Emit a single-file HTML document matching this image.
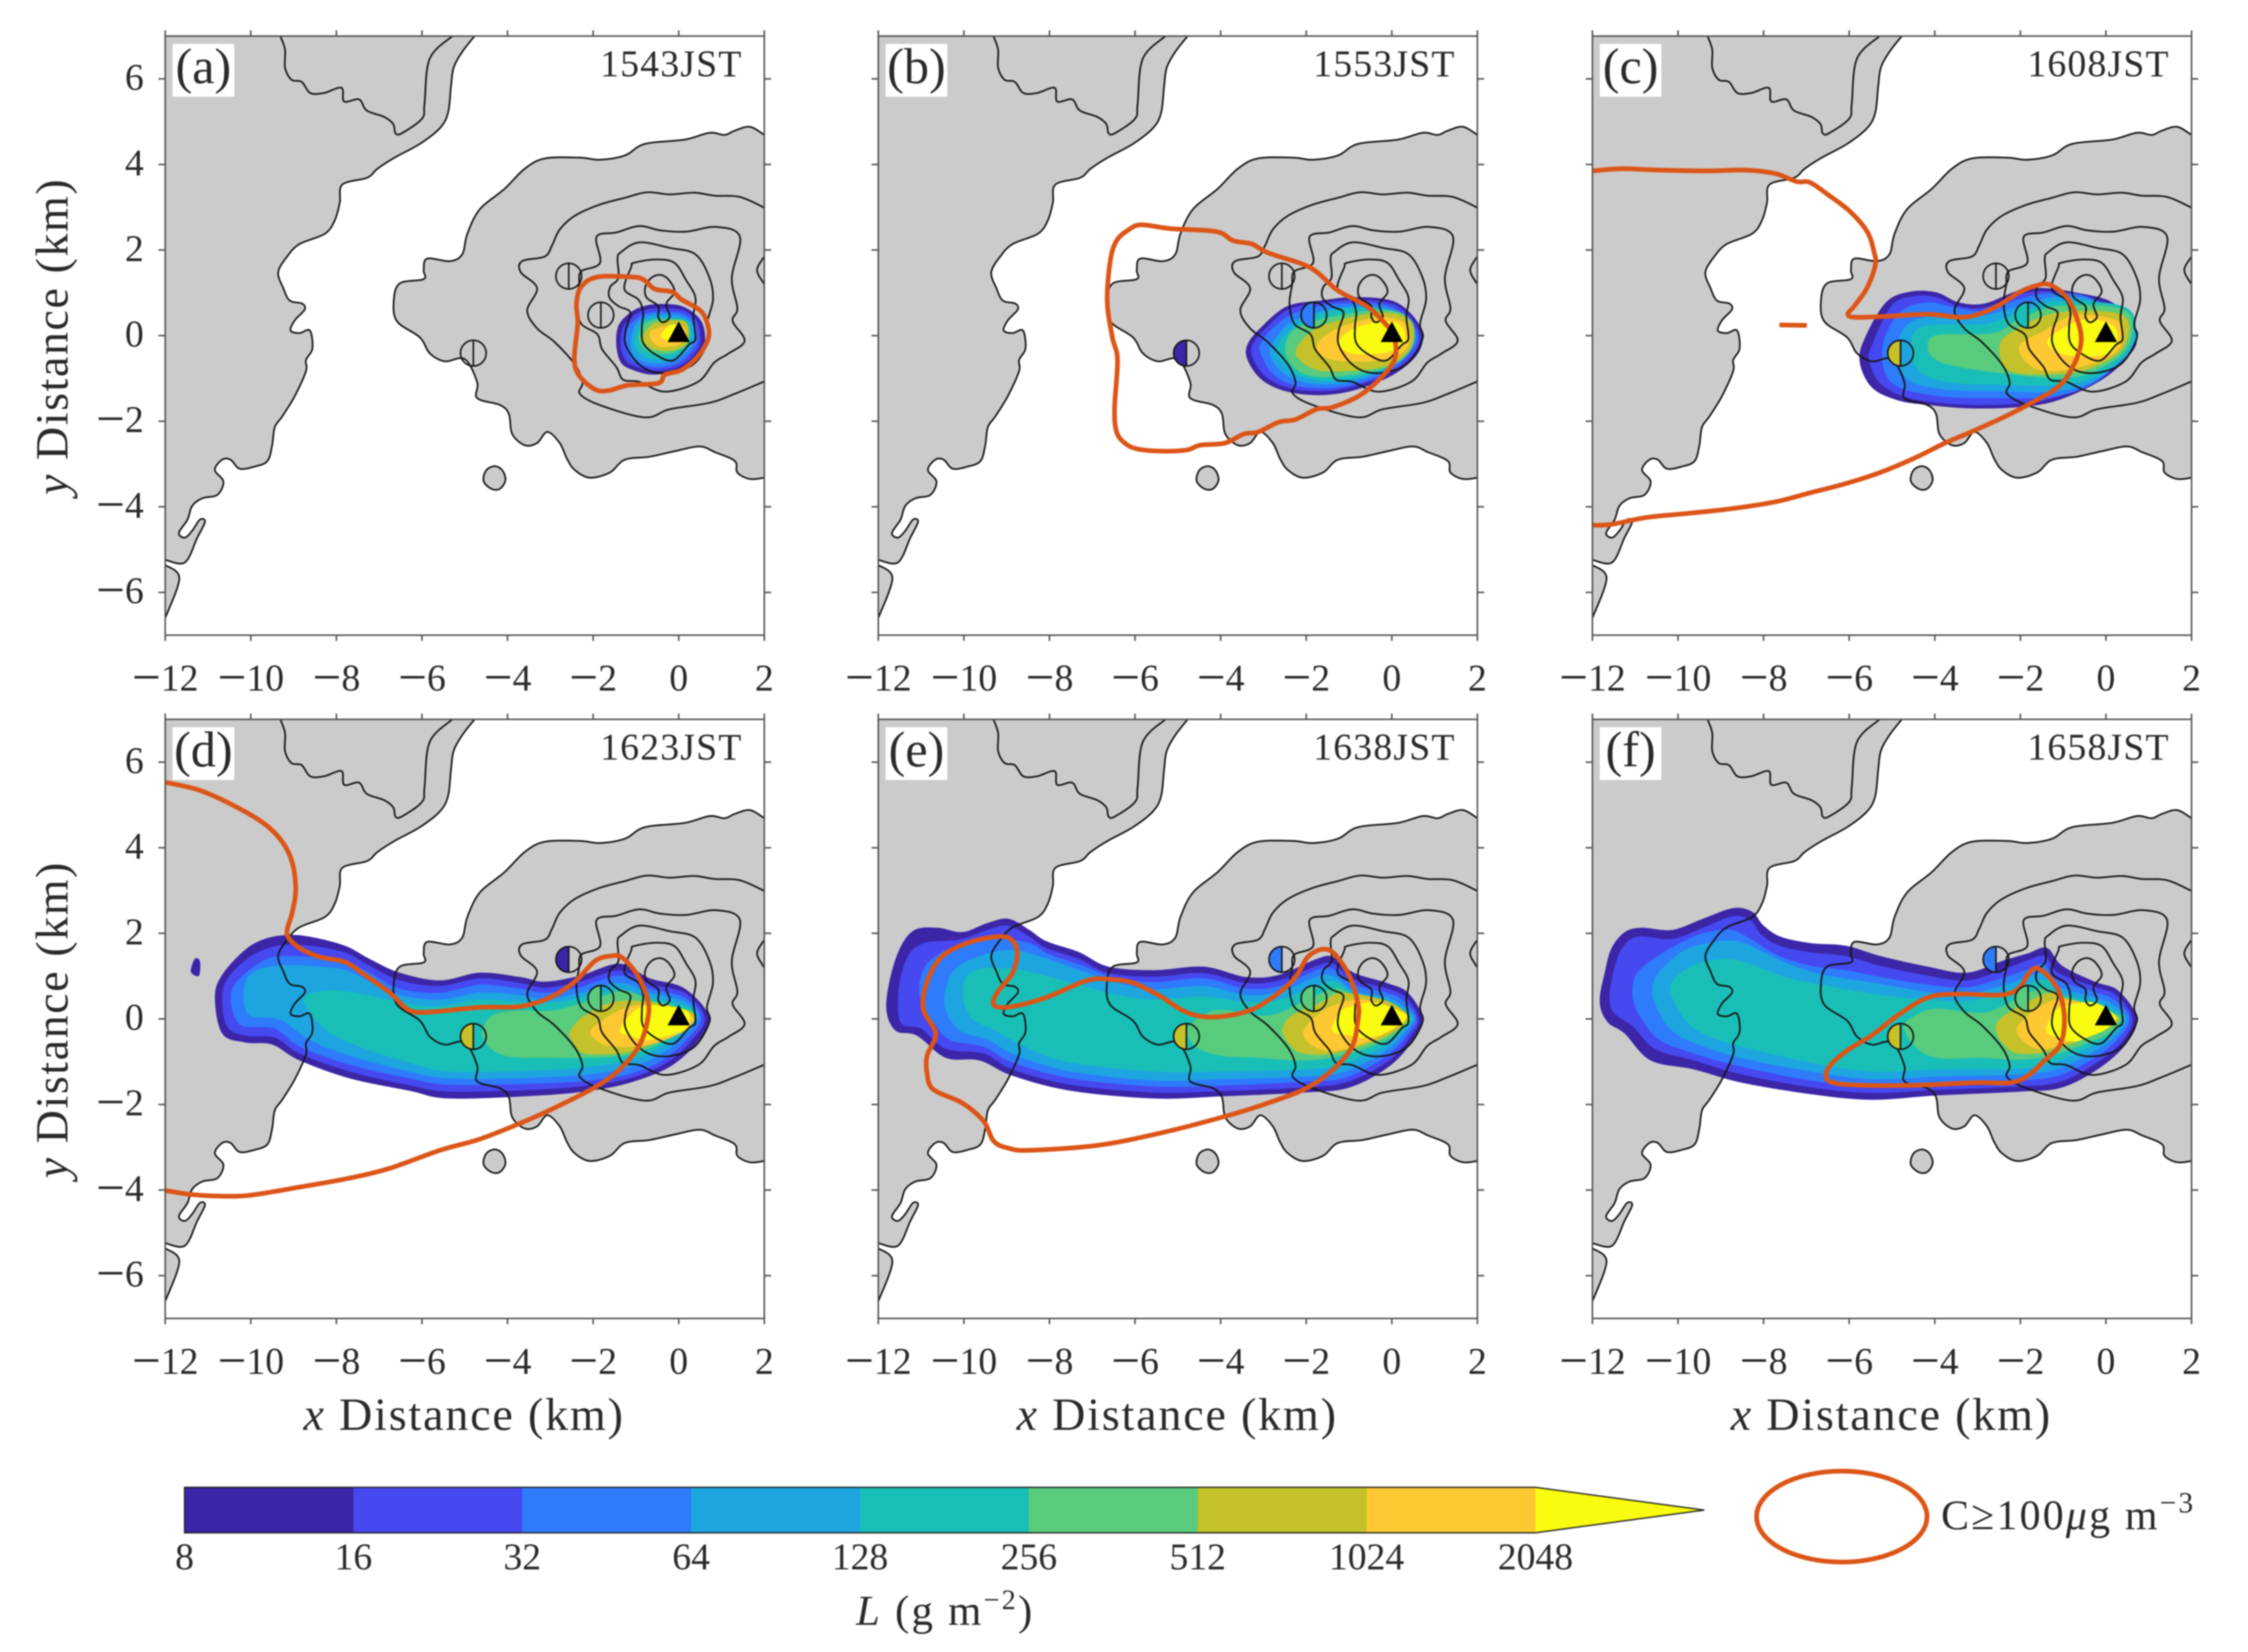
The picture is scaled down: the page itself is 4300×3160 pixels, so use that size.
<!DOCTYPE html>
<html lang="en">
<head>
<meta charset="utf-8">
<title>Plume maps</title>
<style>
html,body{margin:0;padding:0;background:#fff;}
svg{display:block;font-family:"Liberation Serif",serif;fill:#2a2a2a;filter:blur(1.2px);}
</style>
</head>
<body>
<svg id="figure" xmlns="http://www.w3.org/2000/svg" width="4300" height="3160" viewBox="0 0 4300 3160">
<rect x="0" y="0" width="4300" height="3160" fill="#ffffff"/>
<g id="panels"></g>
<g id="colorbar"></g>
<text x="1806" y="3108" text-anchor="middle" font-size="82" textLength="337" lengthAdjust="spacing"><tspan font-style="italic">L</tspan> (g m<tspan font-size="54" dy="-30">−2</tspan><tspan dy="30">)</tspan></text>
<ellipse cx="3523" cy="2901" rx="163" ry="87" fill="none" stroke="#dc5518" stroke-width="9"/>
<text x="3713" y="2925" font-size="80" textLength="482" lengthAdjust="spacing">C≥100<tspan font-style="italic">μ</tspan>g m<tspan font-size="56" dy="-32">−3</tspan></text>
</svg>
<script>
const xTicks = [-12,-10,-8,-6,-4,-2,0,2];
const yTicks = [-6,-4,-2,0,2,4,6];
const panelLetters = ['(a)','(b)','(c)','(d)','(e)','(f)'];
const panelTimes = ['1543JST','1553JST','1608JST','1623JST','1638JST','1658JST'];
const cbLevels = [8,16,32,64,128,256,512,1024,2048];
const bandColors = ['#3c25a7','#4648f0','#2e7bfb','#1da5e0','#19bfb6','#58cb7c','#c4c12a','#fdc831','#f9fb10'];
const siteX = [-4.8,-2.57,-1.82];
const siteY = [-0.41,1.39,0.48];
const siteLevels = [[-1,-1,-1],[0,-1,2],[6,-1,4],[6,0,5],[6,2,5],[6,2,5]];
const ventTriangle = [[0,0.33],[0.26,-0.15],[-0.26,-0.15]];

const mainCoast = [[-4.77,7],[-5.06,6.63],[-5.26,6.26],[-5.32,5.84],[-5.39,5.21],[-5.58,4.85],[-6.05,4.48],[-6.64,4.16],[-7.04,3.9],[-7.28,3.69],[-7.86,3.53],[-7.92,3.11],[-8.04,2.69],[-8.27,2.38],[-8.86,2.14],[-9.15,1.85],[-9.36,1.48],[-9.24,1.11],[-9.09,0.82],[-8.8,0.75],[-8.74,0.61],[-8.97,0.36],[-9.07,0.12],[-8.86,0.06],[-8.62,0.12],[-8.56,-0.3],[-8.71,-0.57],[-8.71,-0.83],[-8.97,-1.41],[-9.26,-1.88],[-9.44,-2.14],[-9.5,-2.56],[-9.61,-2.93],[-9.91,-3.06],[-10.26,-3.11],[-10.47,-2.9],[-10.67,-2.9],[-10.84,-3.14],[-10.64,-3.41],[-10.78,-3.72],[-11.13,-3.8],[-11.37,-3.98],[-11.48,-4.3],[-11.68,-4.61],[-11.54,-4.72],[-11.37,-4.56],[-11.19,-4.3],[-11.07,-4.35],[-11.25,-4.72],[-11.54,-5.3],[-12,-5.24]];
const swCoast = [[-12,-5.36],[-11.67,-5.67],[-12,-6.6]];
const volcanoCoast = [[2,4.69],[1.66,4.88],[1.31,4.79],[1.07,4.69],[0.72,4.74],[0.14,4.58],[-0.79,4.48],[-1.26,4.21],[-1.85,4.11],[-2.31,4.16],[-3.13,4.14],[-3.6,3.9],[-4.07,3.43],[-4.65,2.95],[-4.94,2.38],[-5.06,1.9],[-5.35,1.74],[-5.88,1.8],[-5.96,1.53],[-5.96,1.32],[-6.52,1.22],[-6.66,0.8],[-6.58,0.33],[-6.05,-0.04],[-5.82,-0.41],[-5.47,-0.6],[-5,-0.55],[-4.71,-1.09],[-4.71,-1.46],[-4.18,-1.62],[-3.97,-1.83],[-3.89,-2.3],[-3.6,-2.56],[-3.31,-2.51],[-3.07,-2.25],[-2.78,-2.51],[-2.61,-2.88],[-2.43,-3.14],[-2.08,-3.32],[-1.61,-3.2],[-1.26,-2.9],[-0.68,-2.83],[-0.09,-2.7],[0.49,-2.59],[0.84,-2.72],[1.31,-2.93],[1.37,-3.2],[1.66,-3.35],[2,-3.32]];
const islet = [[-4.3,-3.05],[-4.12,-3.15],[-4.05,-3.38],[-4.18,-3.58],[-4.38,-3.58],[-4.56,-3.4],[-4.5,-3.15]];
const eastEdgeContour = [[2,1.85],[1.83,1.53],[2,1.2]];
const mainlandContour = [[-9.31,7],[-9.2,6.68],[-9.2,6.26],[-9.05,5.98],[-8.81,5.93],[-8.61,5.67],[-8.29,5.67],[-7.88,5.79],[-7.82,5.47],[-7.47,5.52],[-7.29,5.26],[-6.88,5.11],[-6.67,4.94],[-6.62,4.73],[-6.47,4.73],[-6,5.07],[-5.94,5.43],[-5.82,6.47],[-5.29,7]];
const contourOuter = [[2,2.99],[1.43,3.24],[0.84,3.27],[0.37,3.34],[-0.21,3.3],[-0.74,3.35],[-1.26,3.22],[-1.85,3.06],[-2.43,2.8],[-2.78,2.48],[-2.96,2.11],[-3.13,1.85],[-3.66,1.74],[-3.69,1.48],[-3.31,1.11],[-3.54,0.59],[-3.31,0.17],[-2.9,-0.15],[-2.43,-0.67],[-2.25,-1.09],[-2.31,-1.36],[-1.85,-1.62],[-0.79,-1.91],[-0.21,-1.72],[0.72,-1.57],[1.31,-1.36],[2,-1.07]];
const contourSecond = [[-1.84,1.7],[-2.28,1.5],[-2.33,1.19],[-2.39,0.74],[-2.28,0.28],[-1.9,0.03],[-1.79,-0.32],[-1.46,-0.73],[-1.3,-1.03],[-0.92,-1.08],[-0.32,-1.31],[0.45,-1.08],[0.83,-0.63],[1.16,-0.42],[1.54,-0.12],[1.26,0.34],[1.37,0.64],[1.24,1.35],[1.43,2.31],[0.88,2.54],[0.17,2.43],[-0.43,2.46],[-0.92,2.56],[-1.46,2.41],[-1.92,2.31]];
const contourThird = [[-1.43,1.8],[-1.35,1.95],[-0.92,2.18],[-0.21,2.05],[0.39,1.9],[0.72,1.35],[0.8,0.84],[0.66,0.28],[0.72,-0.07],[0.39,-0.63],[-0.1,-0.85],[-0.59,-0.85],[-0.97,-0.63],[-1.24,-0.22],[-1.24,0.13],[-1.13,0.54],[-1.41,0.69],[-1.62,0.89],[-1.6,1.14],[-1.41,1.35]];
const contourFourth = [[-1.11,1.6],[-1.05,1.7],[-0.53,1.78],[-0.1,1.7],[0.17,1.3],[0.39,0.89],[0.34,0.44],[0.39,-0.07],[0.23,-0.22],[-0.13,-0.58],[-0.53,-0.45],[-0.83,-0.17],[-0.86,0.23],[-0.83,0.54],[-0.94,0.84],[-1.27,1.09]];
const contourFifth = [[-0.78,1.14],[-0.64,1.35],[-0.43,1.42],[-0.23,1.3],[-0.1,1.02],[-0.29,0.74],[-0.21,0.44],[-0.37,0.31],[-0.48,0.44],[-0.48,0.69],[-0.75,0.89]];

const plumeA = [
[[-0.42,0.74],[0.07,0.69],[0.45,0.44],[0.6,0.13],[0.58,-0.27],[0.28,-0.68],[-0.15,-0.85],[-0.64,-0.91],[-1.08,-0.8],[-1.35,-0.63],[-1.46,-0.22],[-1.41,0.23],[-1.13,0.54],[-0.81,0.69]],
[[-0.42,0.64],[0.07,0.6],[0.38,0.4],[0.5,0.1],[0.47,-0.26],[0.2,-0.6],[-0.15,-0.77],[-0.62,-0.82],[-1.02,-0.72],[-1.26,-0.56],[-1.36,-0.2],[-1.3,0.2],[-1.05,0.47],[-0.78,0.6]],
[[-0.42,0.56],[0.06,0.52],[0.33,0.35],[0.43,0.08],[0.4,-0.22],[0.14,-0.54],[-0.16,-0.7],[-0.6,-0.74],[-0.97,-0.65],[-1.16,-0.5],[-1.25,-0.18],[-1.2,0.17],[-0.98,0.4],[-0.75,0.52]],
[[-1.13,-0.1],[-0.98,0.3],[-0.7,0.46],[-0.42,0.5],[0,0.46],[0.3,0.3],[0.37,0.05],[0.33,-0.2],[0.08,-0.48],[-0.18,-0.62],[-0.6,-0.65],[-0.95,-0.55],[-1.08,-0.4]],
[[-1.03,-0.08],[-0.88,0.28],[-0.62,0.4],[-0.2,0.42],[0.2,0.35],[0.3,0.08],[0.26,-0.2],[0.02,-0.42],[-0.2,-0.52],[-0.6,-0.55],[-0.88,-0.42],[-1,-0.3]],
[[-0.93,-0.08],[-0.82,0.25],[-0.55,0.38],[-0.1,0.38],[0.15,0.32],[0.24,0.1],[0.2,-0.2],[-0.02,-0.35],[-0.2,-0.42],[-0.58,-0.42],[-0.8,-0.32]],
[[-0.83,0.0],[-0.59,0.28],[-0.1,0.36],[0.2,0.28],[0.2,-0.17],[-0.15,-0.35],[-0.59,-0.32],[-0.8,-0.17]],
[[-0.59,0.14],[-0.1,0.26],[0.15,0.16],[0.15,-0.12],[-0.15,-0.25],[-0.48,-0.25],[-0.68,-0.02]],
[[-0.42,0.01],[-0.23,0.23],[-0.04,0.23],[0,-0.12],[-0.26,-0.12]]
];
const plumeB = [
[[-0.89,0.9],[-0.01,0.82],[0.48,0.48],[0.72,0.01],[0.58,-0.46],[-0.01,-0.94],[-0.89,-1.28],[-1.66,-1.39],[-2.44,-1.31],[-3.03,-1.04],[-3.37,-0.57],[-3.37,-0.2],[-3.03,0.22],[-2.44,0.69],[-1.66,0.82]],
[[-0.89,0.83],[-0.05,0.76],[0.42,0.45],[0.66,0.01],[0.52,-0.42],[-0.05,-0.88],[-0.92,-1.2],[-1.66,-1.3],[-2.42,-1.22],[-2.95,-0.96],[-3.25,-0.53],[-3.25,-0.2],[-2.92,0.2],[-2.4,0.62],[-1.66,0.76]],
[[-3.07,-0.4],[-3.05,-0.15],[-2.75,0.2],[-2.3,0.52],[-1.66,0.7],[-0.89,0.76],[-0.1,0.7],[0.36,0.42],[0.6,0.01],[0.46,-0.38],[-0.08,-0.84],[-0.92,-1.15],[-1.66,-1.23],[-2.35,-1.14],[-2.8,-0.88]],
[[-2.85,-0.35],[-2.5,0.2],[-2.05,0.45],[-1.5,0.62],[-0.89,0.69],[-0.12,0.64],[0.32,0.4],[0.55,0],[0.4,-0.36],[-0.1,-0.78],[-0.95,-1.08],[-1.66,-1.14],[-2.25,-1.03],[-2.65,-0.78]],
[[-2.7,-0.3],[-2.3,0.2],[-1.85,0.43],[-1.3,0.6],[-0.3,0.64],[0.3,0.38],[0.5,-0.02],[0.36,-0.34],[-0.15,-0.76],[-1,-1.02],[-1.65,-1.05],[-2.2,-0.92],[-2.5,-0.68]],
[[-2.49,-0.25],[-2.05,0.27],[-0.3,0.6],[0.45,0.36],[0.45,-0.32],[-0.2,-0.78],[-1.57,-0.97],[-2.25,-0.78]],
[[-2.2,-0.25],[-1.66,0.22],[-0.3,0.54],[0.43,0.33],[0.43,-0.3],[-0.2,-0.73],[-1.57,-0.83],[-2.15,-0.57]],
[[-1.76,-0.25],[-1.27,0.17],[-0.3,0.43],[0.33,0.27],[0.38,-0.25],[-0.2,-0.57],[-1.37,-0.57]],
[[-1.23,-0.15],[-0.89,0.17],[-0.2,0.33],[0.23,0.22],[0.28,-0.2],[-0.2,-0.41],[-0.98,-0.41]]
];
const plumeC = [
[[-5.12,0.8],[-4.56,1.03],[-3.96,1.01],[-3.45,0.78],[-2.84,0.75],[-2.03,1.06],[-1.43,1.11],[-0.72,1.01],[0.19,0.75],[0.7,0.01],[0.55,-0.46],[-0.11,-1.04],[-1.12,-1.51],[-2.03,-1.67],[-3.15,-1.7],[-4.16,-1.62],[-4.87,-1.51],[-5.48,-1.2],[-5.76,-0.57],[-5.58,0.06]],
[[-5.48,-0.25],[-5.02,0.69],[-4.51,0.92],[-3.96,0.9],[-3.45,0.69],[-2.84,0.66],[-2.03,0.96],[-1.43,1.04],[-0.72,0.96],[0.19,0.64],[0.63,0.01],[0.5,-0.41],[-0.16,-0.99],[-1.12,-1.43],[-2.03,-1.59],[-3.15,-1.62],[-4.16,-1.54],[-4.82,-1.39],[-5.32,-1.07],[-5.53,-0.57]],
[[-5.22,-0.25],[-4.82,0.54],[-4.16,0.78],[-3.45,0.64],[-2.84,0.59],[-2.03,0.85],[-1.33,0.99],[-0.41,0.9],[0.6,0.27],[0.68,-0.15],[-0.13,-1.01],[-1.12,-1.41],[-2.44,-1.46],[-3.96,-1.41],[-5.02,-1.09]],
[[-4.87,-0.25],[-4.56,0.32],[-3.76,0.48],[-2.84,0.48],[-2.03,0.69],[-1.22,0.9],[-0.41,0.85],[0.55,0.48],[0.65,-0.25],[-0.16,-0.99],[-1.12,-1.3],[-2.44,-1.3],[-3.86,-1.25],[-4.67,-0.99]],
[[-4.56,-0.25],[-4.26,0.22],[-2.84,0.27],[-2.03,0.54],[-1.12,0.8],[0.5,0.64],[0.6,-0.25],[-0.21,-0.94],[-1.12,-1.15],[-2.44,-1.15],[-3.65,-1.09],[-4.36,-0.83]],
[[-3.96,0.01],[-2.64,0.06],[-2.03,0.38],[-1.12,0.69],[0.45,0.59],[0.52,-0.25],[-0.26,-0.83],[-1.12,-0.99],[-2.44,-0.88],[-3.45,-0.73],[-3.96,-0.57],[-4.16,-0.3]],
[[-2.49,-0.25],[-2.14,0.12],[-1.12,0.54],[0.39,0.48],[0.43,-0.25],[-0.26,-0.73],[-1.12,-0.9],[-2.24,-0.83]],
[[-2.03,-0.25],[-1.43,0.12],[-0.72,0.48],[0.29,0.33],[0.34,-0.25],[-0.21,-0.62],[-1.12,-0.83],[-1.73,-0.73]],
[[-1.38,-0.15],[-0.92,0.22],[-0.41,0.38],[0.19,0.22],[0.24,-0.25],[-0.11,-0.46],[-0.92,-0.46]]
];
const plumeD = [
[[-9.15,1.96],[-8.62,1.92],[-7.8,1.71],[-7.22,1.4],[-6.52,1.08],[-5.58,0.9],[-4.65,1.08],[-3.71,0.98],[-3.13,0.87],[-2.31,1.01],[-1.38,1.29],[-0.68,0.95],[0.14,0.71],[0.72,0.03],[0.43,-0.55],[-0.21,-1.12],[-1.14,-1.49],[-2.08,-1.68],[-3.25,-1.79],[-5.35,-1.86],[-6.29,-1.68],[-7.69,-1.39],[-8.86,-0.97],[-9.5,-0.6],[-10.14,-0.55],[-10.67,-0.34],[-10.84,0.5],[-10.67,1.03],[-10.14,1.61],[-9.67,1.87]],
[[-10.67,0.45],[-10.55,0.93],[-10.02,1.45],[-9.38,1.71],[-8.62,1.71],[-7.8,1.55],[-7.22,1.24],[-6.52,0.9],[-5.58,0.77],[-4.65,0.95],[-3.71,0.84],[-3.13,0.73],[-2.31,0.87],[-1.38,1.13],[-0.68,0.82],[0.14,0.61],[0.61,0.03],[0.31,-0.49],[-0.27,-1.02],[-1.14,-1.39],[-2.08,-1.55],[-3.25,-1.65],[-5.35,-1.7],[-6.29,-1.55],[-7.69,-1.23],[-8.86,-0.81],[-9.44,-0.44],[-10.14,-0.39],[-10.55,-0.18]],
[[-10.47,0.45],[-10.37,0.82],[-9.9,1.24],[-9.44,1.45],[-8.62,1.45],[-7.8,1.35],[-7.22,1.08],[-6.52,0.71],[-5.58,0.61],[-4.65,0.8],[-3.71,0.71],[-3.13,0.61],[-2.31,0.74],[-1.38,1.01],[-0.68,0.71],[0.14,0.5],[0.53,0.03],[0.2,-0.47],[-0.39,-0.97],[-1.14,-1.29],[-2.08,-1.44],[-3.25,-1.51],[-5.35,-1.54],[-6.29,-1.39],[-7.69,-1.07],[-8.86,-0.65],[-9.44,-0.23],[-10.14,-0.18],[-10.37,0.03]],
[[-10.17,0.56],[-10.02,1.03],[-9.44,1.24],[-8.62,1.24],[-7.8,1.14],[-7.22,0.87],[-6.52,0.56],[-5.58,0.45],[-4.65,0.61],[-3.71,0.56],[-3.13,0.45],[-2.31,0.61],[-1.38,0.84],[-0.68,0.61],[0.14,0.4],[0.46,0.03],[0.08,-0.44],[-0.5,-0.87],[-1.14,-1.13],[-2.08,-1.29],[-3.25,-1.37],[-5.35,-1.39],[-6.29,-1.23],[-7.69,-0.86],[-8.62,-0.49],[-9.32,-0.02],[-10.02,0.08]],
[[-8.77,0.45],[-8.27,0.66],[-7.57,0.61],[-6.64,0.42],[-5.71,0.29],[-4.65,0.45],[-3.71,0.4],[-2.78,0.4],[-1.85,0.61],[-1.38,0.71],[-0.68,0.5],[0.2,0.29],[0.4,0.03],[0,-0.39],[-0.62,-0.76],[-1.14,-0.97],[-2.08,-1.12],[-3.25,-1.2],[-5.35,-1.23],[-6.29,-1.02],[-7.46,-0.65],[-8.27,-0.23]],
[[-4.59,-0.28],[-4.36,0.08],[-3.83,0.19],[-3.01,0.19],[-2.55,0.29],[-1.85,0.5],[-1.26,0.66],[-0.62,0.42],[0.26,0.19],[0.35,-0.02],[-0.09,-0.39],[-0.74,-0.7],[-1.26,-0.86],[-2.08,-0.91],[-3.01,-0.91],[-3.97,-0.88],[-4.44,-0.65]],
[[-2.55,-0.32],[-2.2,0.08],[-1.5,0.4],[-0.56,0.38],[0.32,0.14],[0.26,-0.18],[-0.21,-0.44],[-0.85,-0.67],[-1.38,-0.81],[-2.2,-0.81],[-2.43,-0.6]],
[[-2.06,-0.28],[-1.61,0.08],[-1.14,0.29],[-0.56,0.32],[0.29,0.08],[0.2,-0.23],[-0.33,-0.49],[-0.91,-0.63],[-1.5,-0.65],[-1.85,-0.55]],
[[-1.38,-0.28],[-1.09,0.14],[-0.68,0.32],[0.14,0.21],[0.26,-0.04],[0.08,-0.28],[-0.44,-0.44],[-0.79,-0.49],[-1.14,-0.39]]
];
const plumeDPatch = [[-11.31,1.4],[-11.4,1.1],[-11.21,1.01],[-11.19,1.35]];
const plumeE = [
[[-8.96,2.34],[-8.47,2.08],[-8.08,1.82],[-7.31,1.56],[-6.62,1.22],[-5.55,1.14],[-4.39,1.22],[-3.41,0.98],[-2.64,1.03],[-1.76,1.4],[-1.37,1.45],[-0.89,1.08],[-0.11,0.84],[0.38,0.61],[0.72,0.03],[0.57,-0.39],[-0.01,-1.07],[-0.98,-1.6],[-2.05,-1.72],[-4,-1.81],[-5.55,-1.86],[-7.5,-1.68],[-8.86,-1.33],[-9.64,-0.97],[-10.42,-0.91],[-11.1,-0.39],[-11.59,-0.28],[-11.81,0.19],[-11.73,0.92],[-11.49,1.66],[-11.15,2.08],[-10.61,2.13],[-10.03,2.03],[-9.45,2.24]],
[[-8.96,2.18],[-8.47,1.92],[-8.08,1.66],[-7.31,1.4],[-6.62,1.07],[-5.55,0.99],[-4.39,1.07],[-3.41,0.84],[-2.64,0.9],[-1.76,1.24],[-1.37,1.29],[-0.89,0.92],[-0.11,0.71],[0.33,0.5],[0.62,0.03],[0.48,-0.34],[-0.06,-0.97],[-1.03,-1.47],[-2.05,-1.6],[-4,-1.69],[-5.55,-1.72],[-7.5,-1.54],[-8.86,-1.18],[-9.54,-0.81],[-10.42,-0.7],[-11,-0.23],[-11.44,-0.13],[-11.54,0.29],[-11.49,0.92],[-11.29,1.5],[-10.95,1.77],[-10.51,1.82],[-10.03,1.87],[-9.45,2.08]],
[[-9.15,1.87],[-8.47,1.77],[-7.98,1.5],[-7.21,1.24],[-6.53,0.98],[-5.55,0.86],[-4.39,0.95],[-3.41,0.71],[-2.64,0.77],[-1.76,1.14],[-1.37,1.17],[-0.89,0.8],[-0.11,0.61],[0.28,0.42],[0.57,0.03],[0.4,-0.32],[-0.11,-0.86],[-1.07,-1.37],[-2.05,-1.47],[-4,-1.56],[-5.55,-1.58],[-7.5,-1.39],[-8.86,-1.02],[-9.54,-0.65],[-10.33,-0.49],[-10.72,-0.07],[-10.95,0.29],[-11.05,0.71],[-10.9,1.24],[-10.42,1.61],[-9.74,1.82]],
[[-10.42,0.71],[-10.18,1.19],[-9.54,1.5],[-8.86,1.61],[-8.18,1.45],[-7.6,1.24],[-6.97,1.03],[-6.33,0.82],[-5.55,0.69],[-4.39,0.77],[-3.41,0.56],[-2.64,0.63],[-1.76,0.98],[-1.37,1.01],[-0.89,0.66],[-0.11,0.5],[0.23,0.32],[0.52,0.03],[0.33,-0.28],[-0.16,-0.76],[-1.13,-1.24],[-2.05,-1.35],[-4,-1.41],[-5.55,-1.44],[-7.5,-1.23],[-8.76,-0.86],[-9.45,-0.49],[-10.09,-0.28],[-10.42,0.19]],
[[-10.03,0.61],[-9.9,1.03],[-9.45,1.19],[-8.67,1.14],[-7.98,0.98],[-7.21,0.77],[-6.43,0.56],[-5.55,0.45],[-4.39,0.52],[-3.41,0.4],[-2.64,0.45],[-1.76,0.77],[-1.32,0.87],[-0.84,0.56],[-0.11,0.38],[0.18,0.24],[0.48,0.03],[0.28,-0.26],[-0.2,-0.65],[-1.18,-1.07],[-2.05,-1.18],[-4,-1.23],[-5.55,-1.23],[-7.5,-1.02],[-8.47,-0.7],[-9.25,-0.28],[-9.83,0.03]],
[[-4.78,-0.23],[-4.3,0.14],[-3.9,0.21],[-3.12,0.08],[-2.64,0.14],[-1.86,0.5],[-1.27,0.71],[-0.74,0.45],[-0.11,0.29],[0.14,0.19],[0.43,0.01],[0.23,-0.23],[-0.25,-0.55],[-1.18,-0.86],[-2.05,-0.97],[-3.12,-0.91],[-4,-0.86],[-4.58,-0.65]],
[[-2.56,-0.28],[-2.34,0.08],[-1.66,0.38],[-1.18,0.61],[-0.2,0.45],[0.28,0.19],[0.38,0],[0.18,-0.21],[-0.3,-0.49],[-1.37,-0.81],[-2.05,-0.81],[-2.34,-0.65]],
[[-2.07,-0.32],[-1.76,0.08],[-1.27,0.35],[-0.59,0.45],[0.28,0.14],[0.33,-0.02],[0.09,-0.21],[-0.4,-0.46],[-1.27,-0.74],[-1.81,-0.65]],
[[-1.39,-0.28],[-1.23,0.14],[-0.98,0.29],[-0.4,0.38],[0.28,0.14],[0.3,-0.04],[0.09,-0.18],[-0.3,-0.39],[-0.69,-0.44],[-0.98,-0.39]]
];
const plumeF = [
[[-8.71,2.59],[-8.26,2.5],[-8.01,2.19],[-7.6,1.92],[-6.89,1.77],[-6.08,1.71],[-5.27,1.47],[-4.16,1.22],[-3.25,1.08],[-2.44,1.35],[-1.83,1.53],[-1.38,1.66],[-1.02,1.24],[-0.26,0.87],[0.29,0.66],[0.72,0.03],[0.5,-0.55],[-0.11,-1.12],[-1.02,-1.6],[-2.03,-1.7],[-3.96,-1.79],[-5.48,-1.89],[-6.89,-1.76],[-8.51,-1.49],[-9.63,-1.18],[-10.64,-0.97],[-11.25,-0.34],[-11.65,-0.07],[-11.83,0.4],[-11.7,1.14],[-11.55,1.66],[-11.24,2.03],[-10.84,2.13],[-10.13,2.08],[-9.42,2.34]],
[[-8.71,2.4],[-8.31,2.3],[-8.06,1.98],[-7.65,1.72],[-6.94,1.56],[-6.08,1.47],[-5.27,1.24],[-4.16,1.01],[-3.25,0.9],[-2.44,1.14],[-1.83,1.37],[-1.42,1.47],[-1.12,1.08],[-0.26,0.75],[0.24,0.56],[0.62,0.03],[0.4,-0.5],[-0.19,-1.01],[-1.07,-1.47],[-2.03,-1.58],[-3.96,-1.66],[-5.48,-1.73],[-6.89,-1.6],[-8.51,-1.3],[-9.63,-0.97],[-10.54,-0.7],[-11.05,-0.18],[-11.5,0.14],[-11.6,0.5],[-11.5,1.14],[-11.3,1.66],[-10.95,1.92],[-10.13,1.87],[-9.42,2.13]],
[[-11.05,0.82],[-10.9,1.14],[-10.33,1.56],[-9.49,1.98],[-8.77,2.08],[-8.31,1.87],[-7.7,1.5],[-6.89,1.24],[-6.08,1.14],[-5.27,0.98],[-4.16,0.8],[-3.25,0.74],[-2.44,0.95],[-1.83,1.16],[-1.43,1.29],[-1.17,0.92],[-0.26,0.63],[0.19,0.45],[0.55,0.03],[0.31,-0.44],[-0.26,-0.91],[-1.12,-1.33],[-2.03,-1.44],[-3.96,-1.52],[-5.48,-1.58],[-6.89,-1.44],[-8.51,-1.12],[-9.63,-0.81],[-10.44,-0.49],[-10.84,-0.02],[-11.04,0.4]],
[[-10.6,0.61],[-10.49,1.03],[-9.93,1.56],[-9.32,1.77],[-8.61,1.82],[-8,1.56],[-7.3,1.24],[-6.49,1.01],[-5.27,0.82],[-4.16,0.63],[-3.25,0.59],[-2.44,0.77],[-1.83,0.98],[-1.43,1.08],[-1.17,0.77],[-0.26,0.5],[0.14,0.35],[0.48,0.03],[0.24,-0.39],[-0.36,-0.81],[-1.17,-1.18],[-2.03,-1.3],[-3.96,-1.35],[-5.48,-1.41],[-6.89,-1.23],[-8.51,-0.92],[-9.53,-0.6],[-10.14,-0.28],[-10.44,0.14]],
[[-10.17,0.61],[-10.04,0.98],[-9.53,1.29],[-8.82,1.4],[-8.21,1.24],[-7.5,0.98],[-6.49,0.77],[-5.27,0.56],[-4.16,0.45],[-3.25,0.42],[-2.44,0.61],[-1.83,0.82],[-1.37,0.92],[-1.12,0.61],[-0.26,0.4],[0.09,0.24],[0.42,0.03],[0.14,-0.36],[-0.47,-0.7],[-1.23,-1.02],[-2.03,-1.16],[-3.96,-1.18],[-5.48,-1.23],[-6.89,-1.02],[-8.3,-0.7],[-9.32,-0.39],[-9.83,-0.02]],
[[-4.72,-0.18],[-4.46,0.08],[-3.96,0.24],[-2.95,0.14],[-2.44,0.29],[-1.83,0.61],[-1.43,0.71],[-1.07,0.56],[-0.26,0.32],[0.04,0.19],[0.36,0.01],[0.09,-0.32],[-0.52,-0.6],[-1.28,-0.86],[-2.03,-0.95],[-2.95,-0.91],[-3.96,-0.91],[-4.46,-0.65]],
[[-2.57,-0.28],[-2.44,0.03],[-1.83,0.4],[-1.33,0.61],[-1.02,0.5],[-0.26,0.29],[0.29,0.03],[0.04,-0.23],[-0.57,-0.49],[-1.33,-0.76],[-2.03,-0.81],[-2.34,-0.65]],
[[-2.09,-0.26],[-1.83,0.08],[-1.33,0.4],[-0.97,0.45],[-0.26,0.29],[0.24,0.01],[-0.01,-0.21],[-0.62,-0.44],[-1.38,-0.7],[-1.83,-0.6]],
[[-1.4,-0.28],[-1.22,0.14],[-0.92,0.32],[-0.26,0.38],[0.21,0.08],[0.19,-0.07],[-0.06,-0.28],[-0.41,-0.42],[-0.72,-0.53],[-1.12,-0.44]]
];

const cloudA = [[-2.28,1.14],[-1.9,1.37],[-1.08,1.37],[-0.81,1.3],[-0.56,1.09],[-0.15,1.02],[0.07,0.84],[0.5,0.59],[0.67,0.28],[0.69,-0.07],[0.45,-0.48],[0.07,-0.8],[-0.32,-0.91],[-0.48,-1.11],[-1.19,-1.16],[-1.62,-1.28],[-1.95,-1.26],[-2.33,-0.93],[-2.44,-0.53],[-2.36,0.28],[-2.39,0.74]];
const cloudB = [[-6.14,2.48],[-5.85,2.59],[-5.17,2.5],[-4.1,2.43],[-3.71,2.22],[-3.27,2.14],[-2.88,1.93],[-1.91,1.59],[-1.27,1.06],[-0.59,0.69],[-0.2,0.33],[0.04,0.01],[0.09,-0.46],[-0.11,-0.83],[-0.69,-1.36],[-1.37,-1.67],[-1.76,-1.72],[-2.25,-1.96],[-2.64,-2.02],[-3.12,-2.25],[-3.46,-2.3],[-3.9,-2.51],[-4.48,-2.56],[-4.78,-2.67],[-5.36,-2.7],[-5.94,-2.65],[-6.24,-2.51],[-6.43,-2.25],[-6.48,-1.72],[-6.41,-0.57],[-6.53,-0.04],[-6.65,0.8],[-6.58,1.74],[-6.43,2.22]];
const cloudC = [[-12,3.85],[-11.3,3.9],[-10.49,3.87],[-9.27,3.85],[-8.45,3.87],[-7.74,3.79],[-7.23,3.6],[-6.92,3.58],[-6.49,3.29],[-5.98,2.9],[-5.58,2.43],[-5.42,1.96],[-5.39,1.65],[-5.58,1.12],[-5.88,0.69],[-6.03,0.51],[-5.88,0.43],[-5.17,0.45],[-4.16,0.5],[-3.45,0.43],[-3.04,0.48],[-2.54,0.69],[-2.03,1.01],[-1.62,1.17],[-1.32,1.19],[-0.92,0.9],[-0.67,0.38],[-0.58,-0.15],[-0.77,-0.72],[-1.12,-1.2],[-1.83,-1.62],[-2.44,-1.93],[-3.15,-2.25],[-3.76,-2.51],[-4.47,-2.86],[-5.28,-3.2],[-6.09,-3.46],[-6.9,-3.67],[-7.71,-3.88],[-8.72,-4.04],[-9.73,-4.15],[-10.74,-4.25],[-11.55,-4.41],[-12,-4.43]];
const cloudCDash = [[-7.63,0.25],[-6.99,0.24]];
const cloudD = [[-12,5.53],[-11.19,5.34],[-10.37,4.97],[-9.67,4.55],[-9.26,4.13],[-9.03,3.65],[-8.95,3.02],[-9.03,2.49],[-9.15,1.98],[-8.86,1.66],[-8.39,1.45],[-7.8,1.33],[-7.34,1.03],[-6.75,0.61],[-6.31,0.21],[-5.82,0.16],[-4.65,0.27],[-3.71,0.29],[-3.01,0.5],[-2.43,0.87],[-1.96,1.35],[-1.59,1.47],[-1.32,1.43],[-0.97,1.03],[-0.74,0.5],[-0.71,0.08],[-0.91,-0.6],[-1.38,-1.18],[-1.96,-1.6],[-3.01,-2.13],[-3.71,-2.44],[-4.65,-2.81],[-5.58,-3.07],[-6.75,-3.49],[-7.69,-3.72],[-8.86,-3.93],[-10.02,-4.12],[-10.72,-4.14],[-11.42,-4.1],[-12,-4.01]];
const cloudE = [[-9.25,1.92],[-8.91,1.87],[-8.75,1.56],[-8.86,1.08],[-9.15,0.71],[-9.3,0.45],[-9.25,0.29],[-8.86,0.29],[-8.08,0.5],[-7.11,0.9],[-6.53,0.92],[-6.04,0.84],[-5.46,0.56],[-4.87,0.19],[-4.39,0.05],[-3.8,0.08],[-3.22,0.24],[-2.64,0.61],[-2.25,0.98],[-1.96,1.45],[-1.61,1.63],[-1.32,1.5],[-0.98,0.98],[-0.79,0.35],[-0.79,-0.02],[-0.93,-0.65],[-1.37,-1.18],[-1.96,-1.6],[-2.73,-1.91],[-3.9,-2.28],[-5.55,-2.7],[-6.92,-2.96],[-8.47,-3.07],[-8.96,-3.02],[-9.3,-2.86],[-9.54,-2.39],[-10.03,-1.97],[-10.71,-1.65],[-10.86,-1.28],[-10.86,-0.86],[-10.66,-0.34],[-10.95,0.24],[-10.86,0.87],[-10.52,1.45],[-9.93,1.77]];
const cloudF = [[-1.63,1.19],[-1.33,0.98],[-1.07,0.56],[-0.97,-0.02],[-1.07,-0.6],[-1.43,-0.97],[-1.83,-1.33],[-2.24,-1.49],[-3.05,-1.49],[-4.46,-1.55],[-5.68,-1.55],[-6.44,-1.47],[-6.51,-1.18],[-6.08,-0.76],[-5.48,-0.39],[-4.87,0.08],[-4.16,0.5],[-3.45,0.58],[-2.44,0.56],[-2.03,0.72],[-1.83,1.03]];

const plumes = [plumeA,plumeB,plumeC,plumeD,plumeE,plumeF];
const clouds = [cloudA,cloudB,cloudC,cloudD,cloudE,cloudF];
const cloudClosed = [true,true,false,false,true,true];
const panelLeft = [316,1680,3046,316,1680,3046];
const panelTop = [69,69,69,1376,1376,1376];

const NS = 'http://www.w3.org/2000/svg';
const PW = 1146, PH = 1146;
const KM = PW / 14;

function make(parent, tag, attrs) {
  const e = document.createElementNS(NS, tag);
  for (const k in attrs) e.setAttribute(k, attrs[k]);
  parent.appendChild(e);
  return e;
}
function smooth(pts, sx, sy, closed) {
  const n = pts.length;
  const P = i => closed ? pts[(i + n) % n] : pts[Math.max(0, Math.min(n - 1, i))];
  let d = 'M' + sx(pts[0][0]).toFixed(1) + ' ' + sy(pts[0][1]).toFixed(1);
  const last = closed ? n : n - 1;
  for (let i = 0; i < last; i++) {
    const p0 = P(i - 1), p1 = P(i), p2 = P(i + 1), p3 = P(i + 2);
    const c1x = sx(p1[0]) + (sx(p2[0]) - sx(p0[0])) / 6;
    const c1y = sy(p1[1]) + (sy(p2[1]) - sy(p0[1])) / 6;
    const c2x = sx(p2[0]) - (sx(p3[0]) - sx(p1[0])) / 6;
    const c2y = sy(p2[1]) - (sy(p3[1]) - sy(p1[1])) / 6;
    d += 'C' + c1x.toFixed(1) + ' ' + c1y.toFixed(1) + ' ' + c2x.toFixed(1) + ' ' + c2y.toFixed(1) + ' ' + sx(p2[0]).toFixed(1) + ' ' + sy(p2[1]).toFixed(1);
  }
  return d + (closed ? 'Z' : '');
}
// Wide minus like the reference's math font: a larger glyph, shifted down to stay centred.
function fillNumber(textEl, v) {
  if (v < 0) {
    const m = make(textEl, 'tspan', {'font-size': 98, dy: 7});
    m.textContent = '\u2212';
    const d = make(textEl, 'tspan', {dy: -7});
    d.textContent = String(Math.abs(v));
  } else {
    textEl.textContent = String(v);
  }
}

const root = document.getElementById('panels');
const defs = make(root, 'defs', {});

panelLetters.forEach((letter, p) => {
  const left = panelLeft[p], top = panelTop[p];
  const sx = x => left + (x + 12) * KM;
  const sy = y => top + (7 - y) * KM;
  const g = make(root, 'g', {});
  
  

  const clip = make(defs, 'clipPath', {id: 'clip' + p});
  make(clip, 'rect', {x: left, y: top, width: PW, height: PH});
  const map = make(g, 'g', {'clip-path': 'url(#clip' + p + ')'});
  
  

  // land fill
  const landMain = make(map, 'path', {d: smooth(mainCoast, sx, sy, false) + 'L' + sx(-12) + ' ' + sy(7) + 'Z', fill: '#cbcbcb'});
  
  
  const landSw = make(map, 'path', {d: smooth(swCoast, sx, sy, false) + 'Z', fill: '#cbcbcb'});
  
  
  const landVolcano = make(map, 'path', {d: smooth(volcanoCoast, sx, sy, false) + 'Z', fill: '#cbcbcb'});
  
  
  const landIslet = make(map, 'path', {d: smooth(islet, sx, sy, true), fill: '#cbcbcb'});
  
  

  // plume bands
  plumes[p].forEach((band, i) => {
    const b = make(map, 'path', {d: smooth(band, sx, sy, true), fill: bandColors[i]});
    
    
  });
  if (p === 3) {
    const patch = make(map, 'path', {d: smooth(plumeDPatch, sx, sy, true), fill: bandColors[0]});
    
    
  }

  // black outlines
  const lines = [[mainCoast,false],[swCoast,false],[volcanoCoast,false],[islet,true],[eastEdgeContour,false],[mainlandContour,false],[contourOuter,false],[contourSecond,true],[contourThird,true],[contourFourth,true],[contourFifth,true]];
  lines.forEach((ln, i) => {
    const l = make(map, 'path', {d: smooth(ln[0], sx, sy, ln[1]), fill: 'none', stroke: '#151515', 'stroke-width': 3.2});
    
    
  });

  // red contour
  const cloud = make(map, 'path', {d: smooth(clouds[p], sx, sy, cloudClosed[p]), fill: 'none', stroke: '#dc5518', 'stroke-width': 9, 'stroke-linejoin': 'round'});
  
  
  if (p === 2) {
    const dash = make(map, 'path', {d: smooth(cloudCDash, sx, sy, false), fill: 'none', stroke: '#dc5518', 'stroke-width': 9});
    
    
  }

  // observation sites
  siteX.forEach((sv, i) => {
    const cx = sx(sv), cy = sy(siteY[i]), r = 24.5;
    const lvl = siteLevels[p][i];
    if (lvl >= 0) {
      const half = make(map, 'path', {d: 'M' + cx + ' ' + (cy - r) + 'A' + r + ' ' + r + ' 0 0 0 ' + cx + ' ' + (cy + r) + 'Z', fill: bandColors[lvl]});
      
      
    }
    const ring = make(map, 'circle', {cx: cx, cy: cy, r: r, fill: 'none', stroke: '#151515', 'stroke-width': 3});
    
    
    const bar = make(map, 'line', {x1: cx, x2: cx, y1: cy - r, y2: cy + r, stroke: '#151515', 'stroke-width': 3});
    
    
  });

  // vent
  const vent = make(map, 'polygon', {points: ventTriangle.map(t => sx(t[0]) + ',' + sy(t[1])).join(' '), fill: '#000'});
  
  

  // frame
  const frame = make(g, 'rect', {x: left, y: top, width: PW, height: PH, fill: 'none', stroke: '#555', 'stroke-width': 3});
  
  

  // x ticks
  xTicks.forEach(v => {
    const x = sx(v);
    const t = make(g, 'path', {d: 'M' + x + ' ' + top + 'v-11M' + x + ' ' + (top + PH) + 'v11', stroke: '#555', 'stroke-width': 3, fill: 'none'});
    
    
    const lab = make(g, 'text', {x: x, y: top + PH + 106, 'text-anchor': 'middle', 'font-size': 72});
    fillNumber(lab, v);
    
    
  });
  // y ticks
  yTicks.forEach(v => {
    const y = sy(v);
    const t = make(g, 'path', {d: 'M' + left + ' ' + y + 'h-13M' + (left + PW) + ' ' + y + 'h13', stroke: '#555', 'stroke-width': 3, fill: 'none'});
    
    
    if (p % 3 === 0) {
      const lab = make(g, 'text', {x: left - 41, y: y + 21, 'text-anchor': 'end', 'font-size': 72});
      fillNumber(lab, v);
      
      
    }
  });

  // panel letter box
  const box = make(g, 'rect', {x: left + 14, y: top + 15, width: 118, height: 101, fill: '#fff'});
  
  
  const letterText = make(g, 'text', {x: left + 73, y: top + 90, 'text-anchor': 'middle', 'font-size': 96});
  letterText.textContent = letter;
  
  
  const timeText = make(g, 'text', {x: left + 832, y: top + 77, 'font-size': 72, textLength: 270, lengthAdjust: 'spacing'});
  timeText.textContent = panelTimes[p];
  
  

  // axis titles: x title on the bottom row only, y title on the left column only
  if (p >= 3) {
    const xTitle = make(g, 'text', {x: left + PW / 2 - 3, y: top + PH + 213, 'text-anchor': 'middle', 'font-size': 88, textLength: 611, lengthAdjust: 'spacing'});
    const xi = make(xTitle, 'tspan', {'font-style': 'italic'});
    xi.textContent = 'x';
    xTitle.appendChild(document.createTextNode(' Distance (km)'));
    
    
  }
  if (p % 3 === 0) {
    const cy = top + PH / 2 + 3;
    const yTitle = make(g, 'text', {x: 0, y: 0, transform: 'translate(129 ' + cy + ') rotate(-90)', 'text-anchor': 'middle', 'font-size': 88, textLength: 604, lengthAdjust: 'spacing'});
    const yi = make(yTitle, 'tspan', {'font-style': 'italic'});
    yi.textContent = 'y';
    yTitle.appendChild(document.createTextNode(' Distance (km)'));
    
    
  }
});

// colorbar
const cb = document.getElementById('colorbar');
const cbTop = 2845, cbBottom = 2932, cbStep = 323, cbStart = 353;
const cbX = level => cbStart + (Math.log2(level) - 3) * cbStep;
cbLevels.forEach((lv, i) => {
  if (i < cbLevels.length - 1) {
    const seg = make(cb, 'rect', {x: cbX(lv), y: cbTop, width: cbX(cbLevels[i + 1]) - cbX(lv) + 1, height: cbBottom - cbTop, fill: bandColors[i]});
    
    
  }
  const tl = make(cb, 'text', {x: cbX(lv), y: 3002, 'text-anchor': 'middle', 'font-size': 72});
  tl.textContent = String(lv);
  
  
});
const lastX = cbX(cbLevels[cbLevels.length - 1]);
const tipX = lastX + cbStep;
const tip = make(cb, 'polygon', {points: lastX + ',' + cbTop + ' ' + tipX + ',' + ((cbTop + cbBottom) / 2) + ' ' + lastX + ',' + cbBottom, fill: bandColors[8]});


const cbOutline = make(cb, 'path', {d: 'M' + cbStart + ' ' + cbTop + 'H' + lastX + 'L' + tipX + ' ' + ((cbTop + cbBottom) / 2) + 'L' + lastX + ' ' + cbBottom + 'H' + cbStart + 'Z', fill: 'none', stroke: '#222', 'stroke-width': 2.5});


</script>
</body>
</html>
